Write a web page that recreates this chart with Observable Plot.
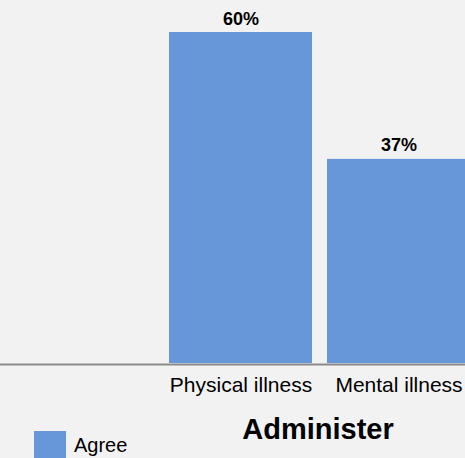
<!DOCTYPE html>
<html>
<head>
<meta charset="utf-8">
<script src="https://cdn.jsdelivr.net/npm/d3@7"></script>
<script src="https://cdn.jsdelivr.net/npm/@observablehq/plot@0.6"></script>
<style>
  html, body { margin: 0; padding: 0; background: #f2f2f2; overflow: hidden; }
  body { width: 465px; height: 458px; font-family: Arial, "Liberation Sans", sans-serif; }
  #below { position: relative; width: 465px; height: 48px; }
  #title { position: absolute; left: 318px; top: 4.5px; transform: translateX(-50%); font-size: 29px; line-height: 1; font-weight: bold; color: #000; white-space: nowrap; }
  #swatch { position: absolute; left: 34px; top: 21px; width: 32px; height: 32px; background: #6797d8; }
  #agree { position: absolute; left: 74px; top: 25px; font-size: 20px; line-height: 1; color: #000; }
</style>
</head>
<body>
<div id="chart"></div>
<div id="below">
  <div id="title"></div>
  <div id="swatch"></div>
  <div id="agree"></div>
</div>
<script>
const categories = ["Physical illness", "Mental illness"];
const agreeValues = [60, 37];
const seriesName = "Agree";
const chartTitle = "Administer";

const data = categories.map((c, i) => ({category: c, value: agreeValues[i]}));

const chart = Plot.plot({
  width: 465,
  height: 410,
  marginLeft: 0,
  marginRight: 0,
  marginTop: 32,
  marginBottom: 47,
  style: {background: "#f2f2f2", fontFamily: "Arial, 'Liberation Sans', sans-serif", color: "#000", overflow: "hidden"},
  x: {domain: categories, range: [169, 470], paddingInner: 0.095, paddingOuter: 0, align: 0.5, label: null},
  y: {domain: [0, 60], range: [363, 32], axis: null},
  marks: [
    Plot.barY(data, {x: "category", y: "value", fill: "#6797d8"}),
    Plot.ruleY([0], {stroke: "#8a8a8a", strokeWidth: 2, dy: 1}),
    Plot.axisX({tickSize: 0, tickPadding: 14, fontSize: 21, fill: "#000", label: null}),
    Plot.text(data, {x: "category", y: "value", text: d => d.value + "%", lineAnchor: "bottom", dy: -8, fontSize: 18, fontWeight: "bold", fill: "#000"})
  ]
});
document.getElementById("chart").appendChild(chart);
document.getElementById("title").textContent = chartTitle;
document.getElementById("agree").textContent = seriesName;
</script>
</body>
</html>
